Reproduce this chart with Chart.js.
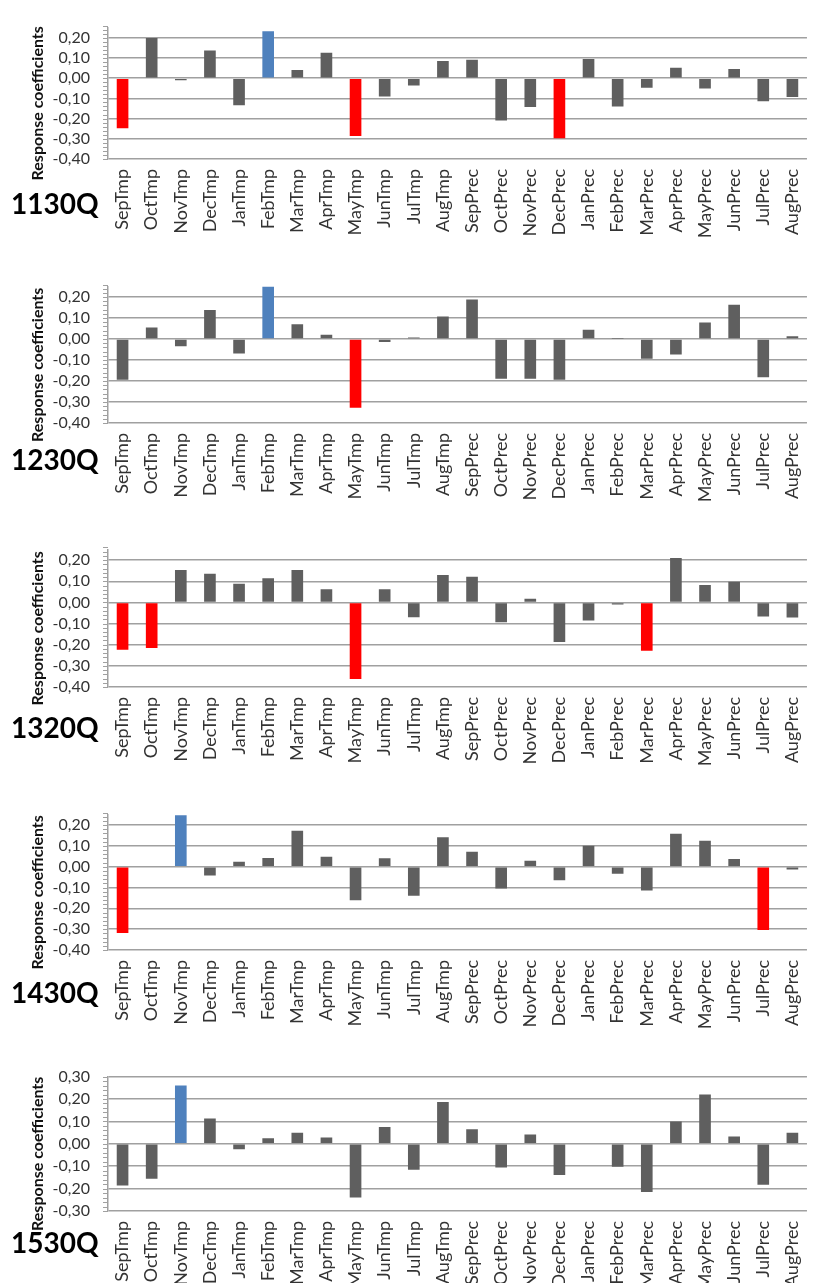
<!DOCTYPE html>
<html>
<head>
<meta charset="utf-8">
<title>Response coefficients</title>
<script src="https://cdn.jsdelivr.net/npm/chart.js@4.4.1/dist/chart.umd.min.js"></script>
<style>
  html, body { margin: 0; padding: 0; background: #fff; overflow: hidden; }
  body { position: relative; width: 824px; height: 1283px; }
  canvas { position: absolute; left: 0; }
</style>
</head>
<body>
<script>
// Climate variables (monthly temperature and precipitation, Sep–Aug)
const categories = [
  'SepTmp', 'OctTmp', 'NovTmp', 'DecTmp', 'JanTmp', 'FebTmp',
  'MarTmp', 'AprTmp', 'MayTmp', 'JunTmp', 'JulTmp', 'AugTmp',
  'SepPrec', 'OctPrec', 'NovPrec', 'DecPrec', 'JanPrec', 'FebPrec',
  'MarPrec', 'AprPrec', 'MayPrec', 'JunPrec', 'JulPrec', 'AugPrec'
];

const siteNames = ['1130Q', '1230Q', '1320Q', '1430Q', '1530Q'];

// Response coefficients per site
const coef1130Q = [-0.248, 0.198, -0.010, 0.137, -0.134, 0.232, 0.040, 0.125, -0.286, -0.091, -0.037, 0.085,
                   0.091, -0.209, -0.143, -0.297, 0.095, -0.140, -0.047, 0.051, -0.051, 0.045, -0.114, -0.093];
const coef1230Q = [-0.194, 0.055, -0.034, 0.139, -0.069, 0.250, 0.070, 0.020, -0.327, -0.014, 0.008, 0.108,
                   0.189, -0.189, -0.189, -0.194, 0.044, 0.002, -0.094, -0.073, 0.079, 0.163, -0.182, 0.013];
const coef1320Q = [-0.224, -0.215, 0.154, 0.136, 0.088, 0.115, 0.154, 0.062, -0.362, 0.063, -0.070, 0.130,
                   0.122, -0.094, 0.017, -0.187, -0.085, -0.010, -0.229, 0.210, 0.083, 0.098, -0.066, -0.071];
const coef1430Q = [-0.318, 0.003, 0.247, -0.042, 0.024, 0.042, 0.172, 0.048, -0.161, 0.041, -0.140, 0.141,
                   0.072, -0.105, 0.028, -0.065, 0.100, -0.034, -0.114, 0.158, 0.124, 0.037, -0.304, -0.013];
const coef1530Q = [-0.186, -0.156, 0.260, 0.113, -0.024, 0.025, 0.049, 0.028, -0.240, 0.075, -0.116, 0.187,
                   0.065, -0.106, 0.042, -0.139, 0.000, -0.102, -0.215, 0.099, 0.220, 0.033, -0.183, 0.049];

// Significant coefficients (negative in red, positive in blue)
const sigNeg1130Q = ['SepTmp', 'MayTmp', 'DecPrec'];
const sigPos1130Q = ['FebTmp'];
const sigNeg1230Q = ['MayTmp'];
const sigPos1230Q = ['FebTmp'];
const sigNeg1320Q = ['SepTmp', 'OctTmp', 'MayTmp', 'MarPrec'];
const sigPos1320Q = [];
const sigNeg1430Q = ['SepTmp', 'JulPrec'];
const sigPos1430Q = ['NovTmp'];
const sigNeg1530Q = [];
const sigPos1530Q = ['NovTmp'];

// Y axis tick values
const yTicksWide = [-0.40, -0.30, -0.20, -0.10, 0.00, 0.10, 0.20];
const yTicksEven = [-0.30, -0.20, -0.10, 0.00, 0.10, 0.20, 0.30];
const yRangeWide = [-0.40, 0.25];
const yRangeEven = [-0.30, 0.30];

const axisTitle = 'Response coefficients';

const sites = [
  { name: siteNames[0], values: coef1130Q, neg: sigNeg1130Q, pos: sigPos1130Q, ticks: yTicksWide, range: yRangeWide },
  { name: siteNames[1], values: coef1230Q, neg: sigNeg1230Q, pos: sigPos1230Q, ticks: yTicksWide, range: yRangeWide },
  { name: siteNames[2], values: coef1320Q, neg: sigNeg1320Q, pos: sigPos1320Q, ticks: yTicksWide, range: yRangeWide },
  { name: siteNames[3], values: coef1430Q, neg: sigNeg1430Q, pos: sigPos1430Q, ticks: yTicksWide, range: yRangeWide },
  { name: siteNames[4], values: coef1530Q, neg: sigNeg1530Q, pos: sigPos1530Q, ticks: yTicksEven, range: yRangeEven }
];

// Panel placement on the page
const panelLayout = [
  { top: 0,    padTop: 7,  plotH: 152, labelY: 205 },
  { top: 259,  padTop: 10, plotH: 154, labelY: 202 },
  { top: 522,  padTop: 10, plotH: 155, labelY: 207 },
  { top: 787,  padTop: 10, plotH: 153, labelY: 207 },
  { top: 1049, padTop: 10, plotH: 152, labelY: 195 }
];

const X_AXIS_H = 96;
const Y_AXIS_W = 108;
const FONT = 'Lato, "Open Sans", sans-serif';
const COLOR_BAR = '#5f5f5f';
const COLOR_NEG = '#ff0000';
const COLOR_POS = '#4f81bd';
const COLOR_GRID = '#a0a0a0';

const fmt = v => v.toFixed(2).replace('.', ',');

// Axis title, site label and minor tick marks on the value axis
const panelDecor = {
  id: 'panelDecor',
  afterDraw(chart, args, opts) {
    const { ctx, chartArea } = chart;
    const y = chart.scales.y;
    ctx.save();
    // minor + major ticks along the value axis
    ctx.strokeStyle = COLOR_GRID;
    ctx.lineWidth = 1;
    const steps = Math.round((y.max - y.min) / 0.02);
    for (let i = 0; i <= steps; i++) {
      const py = Math.round(y.getPixelForValue(y.min + i * 0.02)) + 0.5;
      ctx.beginPath();
      ctx.moveTo(chartArea.left - 5, py);
      ctx.lineTo(chartArea.left, py);
      ctx.stroke();
    }
    // rotated axis title
    ctx.fillStyle = '#111';
    ctx.font = 'bold 16px ' + FONT;
    ctx.textAlign = 'center';
    ctx.textBaseline = 'middle';
    ctx.translate(38, (chartArea.top + chartArea.bottom) / 2 + 10);
    ctx.rotate(-Math.PI / 2);
    ctx.fillText(opts.title, 0, 0);
    ctx.restore();
    // site label
    ctx.save();
    ctx.fillStyle = '#000';
    ctx.font = 'bold 28px ' + FONT;
    ctx.textAlign = 'left';
    ctx.textBaseline = 'middle';
    ctx.fillText(opts.site, 11, opts.labelY);
    ctx.restore();
  }
};

sites.forEach((site, i) => {
  const lay = panelLayout[i];
  const canvas = document.createElement('canvas');
  const h = lay.padTop + lay.plotH + X_AXIS_H;
  canvas.width = 824;
  canvas.height = h;
  canvas.style.top = lay.top + 'px';
  canvas.style.width = '824px';
  canvas.style.height = h + 'px';
  document.body.appendChild(canvas);

  const colors = categories.map(c =>
    site.neg.includes(c) ? COLOR_NEG : (site.pos.includes(c) ? COLOR_POS : COLOR_BAR));

  new Chart(canvas, {
    type: 'bar',
    data: {
      labels: categories,
      datasets: [{
        data: site.values,
        backgroundColor: colors,
        borderWidth: 0,
        barPercentage: 0.4,
        categoryPercentage: 1.0
      }]
    },
    plugins: [panelDecor],
    options: {
      responsive: false,
      devicePixelRatio: 1,
      animation: false,
      layout: { padding: { top: lay.padTop, left: 0, right: 0, bottom: 0 } },
      plugins: {
        legend: { display: false },
        tooltip: { enabled: false },
        panelDecor: { title: axisTitle, site: site.name, labelY: lay.labelY }
      },
      scales: {
        x: {
          grid: { display: false, drawTicks: false },
          border: { display: false },
          ticks: {
            autoSkip: false,
            maxRotation: 90,
            minRotation: 90,
            padding: 10,
            color: '#333',
            font: { family: FONT, size: 18 }
          },
          afterFit: s => { s.height = X_AXIS_H; }
        },
        y: {
          min: site.range[0],
          max: site.range[1],
          afterBuildTicks: s => { s.ticks = site.ticks.map(v => ({ value: v })); },
          grid: { color: COLOR_GRID, lineWidth: 1.5, drawTicks: false },
          border: { display: true, color: COLOR_GRID, width: 1.5 },
          ticks: {
            autoSkip: false,
            padding: 18,
            color: '#333',
            font: { family: FONT, size: 16 },
            callback: v => fmt(v)
          },
          afterFit: s => { s.width = Y_AXIS_W; }
        }
      }
    }
  });
});
</script>
</body>
</html>
